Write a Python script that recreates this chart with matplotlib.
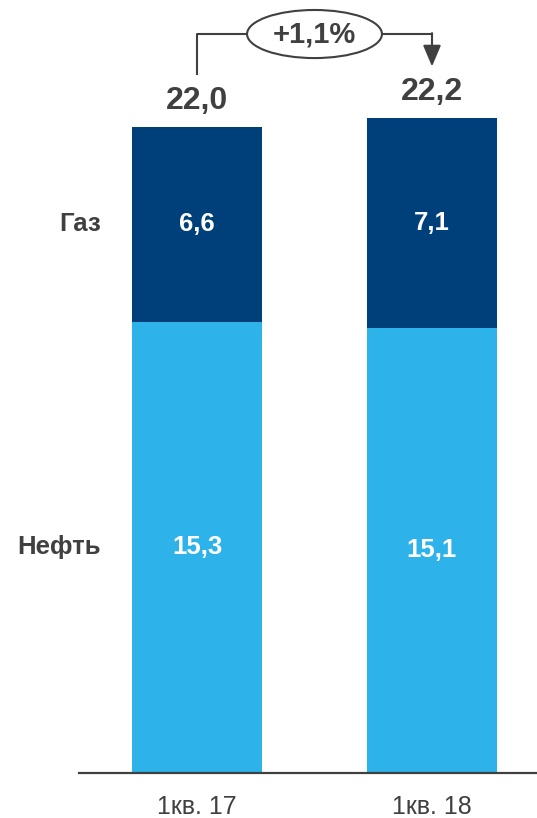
import matplotlib.pyplot as plt
from matplotlib.patches import Ellipse

plt.rcParams['font.family'] = ['Liberation Sans', 'DejaVu Sans']

quarters = ['1кв. 17', '1кв. 18']
oil = [15.3, 15.1]
gas = [6.6, 7.1]
totals = ['22,0', '22,2']
series = ['Нефть', 'Газ']
change = '+1,1%'

dark = '#00407A'
light = '#2DB2E9'
grey = '#404040'

fig = plt.figure(figsize=(5.37, 8.18), dpi=100)
ax = fig.add_axes([0, 45 / 818, 1, 773 / 818])
ax.set_xlim(-197 / 235, 340 / 235)
ax.set_ylim(0, 773 / 29.5)

x = [0, 1]
w = 0.557
ax.bar(x, oil, width=w, color=light, zorder=2)
ax.bar(x, gas, width=w, bottom=oil, color=dark, zorder=2)

def fmt(v):
    return ('%.1f' % v).replace('.', ',')

for i in x:
    ax.text(i, oil[i] / 2, fmt(oil[i]), ha='center', va='center',
            color='white', fontsize=18.5, fontweight='bold')
    ax.text(i, oil[i] + gas[i] / 2, fmt(gas[i]), ha='center', va='center',
            color='white', fontsize=18.5, fontweight='bold')
    ax.annotate(totals[i], (i, oil[i] + gas[i]), xytext=(0, 8),
                textcoords='offset points', ha='center', va='bottom',
                color=grey, fontsize=23, fontweight='bold')

# series names left of the first bar
ax.text(-0.408, oil[0] / 2, series[0], ha='right', va='center',
        color=grey, fontsize=18.5, fontweight='bold')
ax.text(-0.408, oil[0] + gas[0] / 2, series[1], ha='right', va='center',
        color=grey, fontsize=18.5, fontweight='bold')

# change connector
t1 = oil[0] + gas[0]
t2 = oil[1] + gas[1]
y_top = t1 + 3.15
ex, ew, eh = 0.5, 0.574, 1.63
ax.plot([0, 0, ex - ew / 2], [t1 + 1.8, y_top, y_top], color=grey, lw=1.5)
ax.plot([ex + ew / 2, 1], [y_top, y_top], color=grey, lw=1.5)
ax.annotate('', xy=(1, t2 + 1.75), xytext=(1, y_top + 0.03),
            arrowprops=dict(arrowstyle='-|>,head_length=1.3,head_width=0.55',
                            color=grey, lw=1.5, shrinkA=0, shrinkB=0))
ax.add_patch(Ellipse((ex, y_top), ew, eh, facecolor='white',
                     edgecolor=grey, lw=1.5, zorder=3))
ax.text(ex, y_top, change, ha='center', va='center', color=grey,
        fontsize=21, fontweight='bold', zorder=4)

for s in ['top', 'left', 'right']:
    ax.spines[s].set_visible(False)
ax.spines['bottom'].set_color(grey)
ax.spines['bottom'].set_linewidth(1.6)
ax.spines['bottom'].set_bounds(-118 / 235, 340 / 235)
ax.spines['bottom'].set_zorder(3)
ax.set_yticks([])
ax.set_xticks(x)
ax.set_xticklabels(quarters, fontsize=18, color=grey)
ax.tick_params(axis='x', length=0, pad=15.5)

fig.savefig('out.png', dpi=100)
